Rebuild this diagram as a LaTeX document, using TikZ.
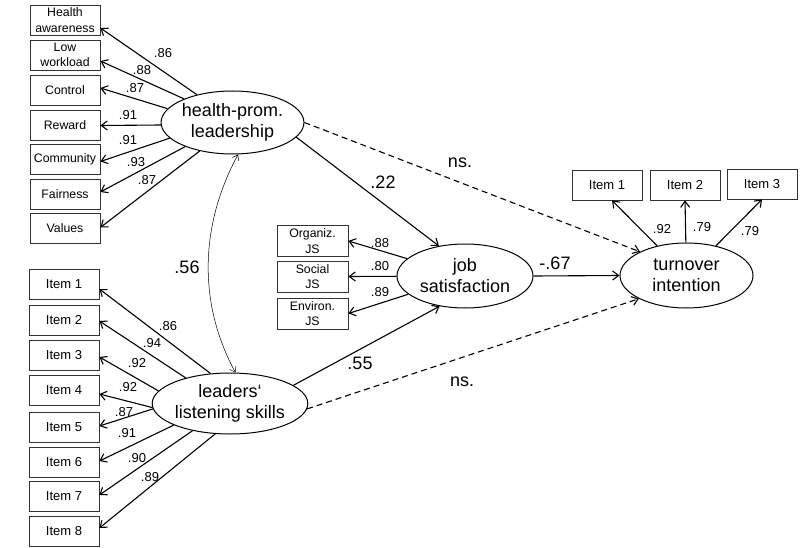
\documentclass[tikz,border=0pt]{standalone}
\usepackage{fontspec}
\setmainfont{Liberation Sans}
\usetikzlibrary{shapes.geometric,arrows.meta}

\begin{document}
\begin{tikzpicture}[x=1pt,y=-1pt,
  latent/.style={draw,ellipse,line width=1pt,inner sep=0pt,align=center,font=\fontsize{18}{21}\selectfont},
  item/.style={draw=black!80,line width=0.8pt,minimum width=70pt,minimum height=30pt,inner sep=0pt,align=center,font=\fontsize{12.3}{15.5}\selectfont},
  load/.style={inner sep=0pt,font=\fontsize{13}{15}\selectfont},
  coef/.style={inner sep=0pt,font=\fontsize{18}{20}\selectfont},
  arr/.style={-{Straight Barb[length=6pt,width=9pt]},line width=1.1pt},
  dsh/.style={arr,dash pattern=on 6pt off 4pt}]
\useasboundingbox (0,0) rectangle (803,548);

\node[latent,minimum width=131pt,minimum height=63pt] (hp) at (232.5,122.5) {health-prom.\\leadership};
\node[latent,minimum width=134pt,minimum height=61pt] (ll) at (230,403.5) {leaders‘\\listening skills};
\node[latent,minimum width=136pt,minimum height=64pt] (js) at (465,276) {job\\satisfaction};
\node[latent,minimum width=133pt,minimum height=65pt] (to) at (686.5,275.5) {turnover\\intention};

\foreach \n/\t/\y/\a/\s/\v/\lx/\ly in {ha/{Health\\awareness}/20/142/-8/.86/163/53, lw/{Low\\workload}/55/154/-6/.88/142/70,
    co/Control/90/168/2/.87/135/88, re/Reward/125.5/182/0/.91/128/115, cm/Community/159.5/194/-2/.91/128/140,
    fa/Fairness/194/207/2/.93/136/162, va/Values/228.5/221/1/.87/147/180}{
  \node[item] (\n) at (65,\y) {\t};
  \draw[arr] (hp.\a) -- ([yshift=\s pt]\n.east);
  \node[load] (l\n) at (\lx,\ly) {\v};
}

\foreach \i/\y/\a/\s/\v/\lx/\ly in {1/284/123/-5/.86/168/326, 2/320/150/-1/.94/152/343, 3/355/170/-2/.92/137/363,
    4/390/183/-4/.92/128/387, 5/427/184/1/.87/124/412, 6/462/201/1/.91/127/433, 7/496/216/1/.90/137/458,
    8/531/244/3/.89/150/477}{
  \node[item,font=\fontsize{13}{15}\selectfont] (li\i) at (64,\y) {Item \i};
  \draw[arr] (ll.\a) -- ([yshift=\s pt]li\i.east);
  \node[load] (lli\i) at (\lx,\ly) {\v};
}

\foreach \n/\t/\y/\v/\ly in {os/Organiz./241/.88/243, ss/Social/276.5/.80/266, es/Environ./313.5/.89/292}{
  \node[item,minimum width=71pt,minimum height=31pt] (\n) at (312.5,\y) {\t\\JS};
  \draw[arr] (js) -- (\n.east);
  \node[load] (l\n) at (380,\ly) {\v};
}

\foreach \i/\x/\y/\s/\v/\lx/\ly in {1/607/185/5/.92/662/229, 2/685/185/0/.79/702/227, 3/762/184/0/.79/750/231}{
  \node[item,font=\fontsize{13}{15}\selectfont] (ti\i) at (\x,\y) {Item \i};
  \draw[arr] (to) -- ([xshift=\s pt]ti\i.south);
  \node[load] (lti\i) at (\lx,\ly) {\v};
}

\draw[arr] (hp.-13) -- (js.131) node[coef] (c22) at (383,182) {.22};
\draw[arr] (ll.16) -- (js.230) node[coef] (c55) at (360,363) {.55};
\draw[arr] (js.east) -- (to.west) node[coef] (c67) at (555,263) {-.67};
\draw[dsh] (hp.east) -- (to.153) node[coef] (ns1) at (460,163) {ns.};
\draw[dsh] (ll.-4) -- (to.206) node[coef] (ns2) at (462,382) {ns.};
\draw[{Straight Barb[length=5pt,width=7pt]}-{Straight Barb[length=5pt,width=7pt]},line width=0.5pt]
  (hp.-80) .. controls +(-38,70) and +(-38,-70) .. (ll.80);
\node[coef] (c56) at (187,267) {.56};
\end{tikzpicture}
\end{document}
